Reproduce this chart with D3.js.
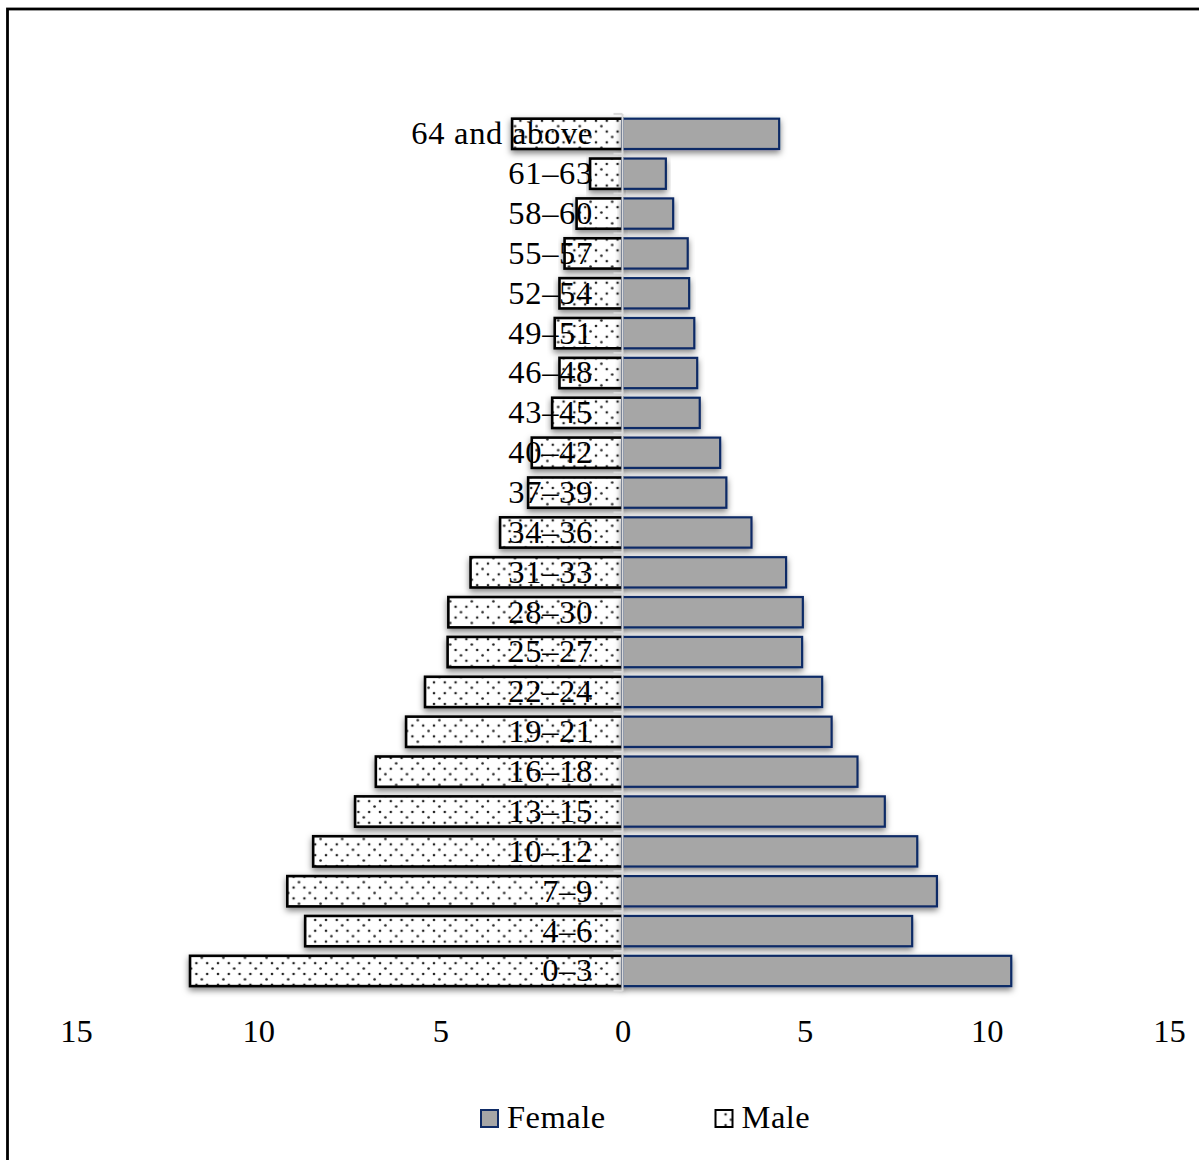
<!DOCTYPE html>
<html>
<head>
<meta charset="utf-8">
<script src="https://cdn.jsdelivr.net/npm/d3@7"></script>
<style>
  html, body { margin: 0; padding: 0; background: #fff; overflow: hidden; }
  svg { display: block; }
  text { font-family: "Liberation Serif", "Times New Roman", serif; fill: #000; }
</style>
</head>
<body>
<script>
const ageGroups = ["64 and above","61–63","58–60","55–57","52–54","49–51","46–48","43–45","40–42","37–39","34–36","31–33","28–30","25–27","22–24","19–21","16–18","13–15","10–12","7–9","4–6","0–3"];
const femaleValues = [4.30,1.19,1.39,1.79,1.83,1.97,2.05,2.12,2.68,2.85,3.54,4.49,4.95,4.93,5.48,5.74,6.45,7.20,8.09,8.63,7.95,10.67];
const maleValues   = [3.03,0.89,1.26,1.59,1.73,1.86,1.73,1.93,2.49,2.59,3.36,4.17,4.78,4.80,5.42,5.94,6.77,7.34,8.49,9.20,8.71,11.87];
const xTickValues = [-15,-10,-5,0,5,10,15];
const seriesNames = ["Female","Male"];

const W = 1199, H = 1160;
const svg = d3.select("body").append("svg").attr("width", W).attr("height", H);
const defs = svg.append("defs");

// dotted pattern for Male
const P = 10.8;
const pat = defs.append("pattern").attr("id","dots").attr("patternUnits","userSpaceOnUse")
  .attr("width",P*2).attr("height",P*2);
pat.append("rect").attr("width",P*2).attr("height",P*2).attr("fill","#fff");
[[2,2],[2+P,2],[2+P/2,2+P/2],[2,2+P],[2+P,2+P],[2+P*1.5,2+P*1.5]].forEach(([cx,cy]) =>
  pat.append("circle").attr("cx",cx).attr("cy",cy).attr("r",1.3).attr("fill","#222"));

const filt = defs.append("filter").attr("id","shadow").attr("x","-10%").attr("y","-30%").attr("width","120%").attr("height","180%");
filt.append("feDropShadow").attr("dx",0).attr("dy",3).attr("stdDeviation",3).attr("flood-color","#000").attr("flood-opacity",0.5);

// outer frame (extends past right/bottom edge)
svg.append("rect").attr("x",7.5).attr("y",9).attr("width",1400).attr("height",1400)
  .attr("fill","none").attr("stroke","#000").attr("stroke-width",2.8);

const x = d3.scaleLinear().domain([-15,15]).range([76,1169]);
const y = d3.scaleBand().domain(ageGroups).range([113.9,990.9]).paddingInner(0.24).paddingOuter(0.12);

const data = ageGroups.map((g,i) => ({g, f: femaleValues[i], m: maleValues[i]}));

// Male bars (left)
svg.append("g").selectAll("rect").data(data).join("rect")
  .attr("x", d => x(-d.m)).attr("y", d => y(d.g))
  .attr("width", d => x(0) - x(-d.m)).attr("height", y.bandwidth())
  .attr("fill","url(#dots)").attr("stroke","#000").attr("stroke-width",2.6)
  .attr("filter","url(#shadow)");

// Female bars (right)
svg.append("g").selectAll("rect").data(data).join("rect")
  .attr("x", x(0)).attr("y", d => y(d.g))
  .attr("width", d => x(d.f) - x(0)).attr("height", y.bandwidth())
  .attr("fill","#a6a6a6").attr("stroke","#0f2b66").attr("stroke-width",2.2)
  .attr("filter","url(#shadow)");

// zero axis line with ticks at category boundaries
const zeroG = svg.append("g");
const step = y.step();
const y0 = y(ageGroups[0]) - (step - y.bandwidth())/2;
const y1 = y(ageGroups[ageGroups.length-1]) + y.bandwidth() + (step - y.bandwidth())/2;
zeroG.append("line").attr("x1",x(0)).attr("x2",x(0)).attr("y1",y0).attr("y2",y1)
  .attr("stroke","#d9d9d9").attr("stroke-width",2);
d3.range(ageGroups.length+1).forEach(i => {
  const yy = y0 + i*step;
  zeroG.append("line").attr("x1",x(0)-9).attr("x2",x(0)).attr("y1",yy).attr("y2",yy)
    .attr("stroke","#d9d9d9").attr("stroke-width",2);
});

// Category labels
const yAxis = d3.axisLeft(y).tickSize(0).tickPadding(0);
const yg = svg.append("g").attr("transform","translate(593,0)").call(yAxis);
yg.select(".domain").remove();
yg.selectAll("text").attr("font-size",32.5).attr("letter-spacing","0.7px")
  .attr("font-family","Liberation Serif, serif").attr("fill","#000");

// X axis
const xAxis = d3.axisBottom(x).tickValues(xTickValues).tickFormat(d => Math.abs(d)).tickSize(0).tickPadding(9);
const xg = svg.append("g").attr("transform","translate(0,1010)").call(xAxis);
xg.select(".domain").remove();
xg.selectAll("text").attr("font-size",32.5).attr("font-family","Liberation Serif, serif").attr("fill","#000");

// Legend
const legend = svg.append("g");
const legItems = [
  {name: seriesNames[0], x: 481, fill: "#a6a6a6", stroke: "#0f2b66"},
  {name: seriesNames[1], x: 715.5, fill: "url(#dots)", stroke: "#000"}
];
legItems.forEach(it => {
  legend.append("rect").attr("x", it.x).attr("y",1110).attr("width",17).attr("height",17)
    .attr("fill", it.fill).attr("stroke", it.stroke).attr("stroke-width",2);
  legend.append("text").attr("x", it.x + 26).attr("y",1128).attr("font-size",32.5)
    .attr("letter-spacing","0.5px").text(it.name);
});
</script>
</body>
</html>
